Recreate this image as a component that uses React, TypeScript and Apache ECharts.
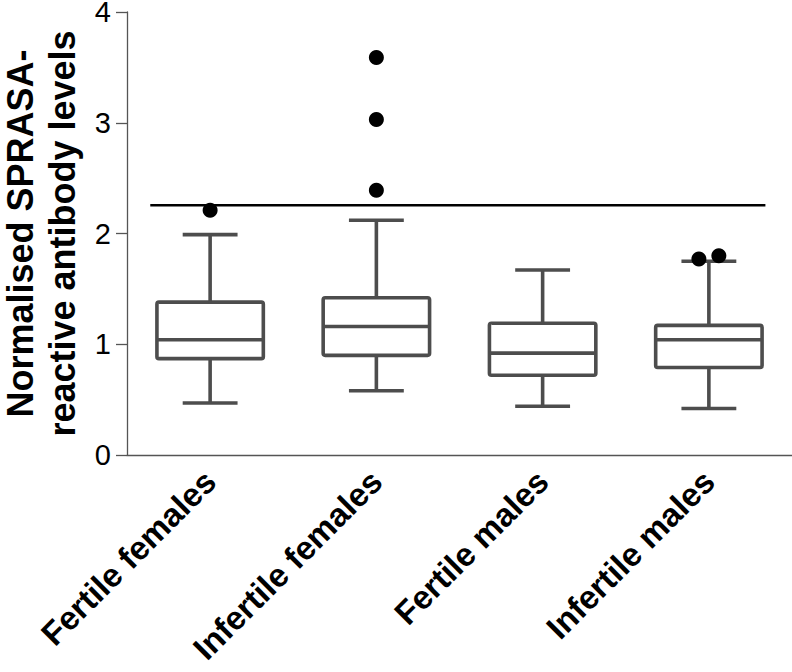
import React, { useEffect, useRef } from "react";
import * as echarts from "echarts";

const categories = ["Fertile females", "Infertile females", "Fertile males", "Infertile males"];
// [min, Q1, median, Q3, max]
const boxStats = [
  [0.47, 0.87, 1.04, 1.38, 1.99],
  [0.58, 0.9, 1.16, 1.42, 2.12],
  [0.44, 0.72, 0.92, 1.19, 1.67],
  [0.42, 0.79, 1.04, 1.17, 1.75],
];
// outliers: [x position (category index, with small jitter), value]
const outliers = [
  [0, 2.21],
  [1, 3.59],
  [1, 3.03],
  [1, 2.39],
  [2.94, 1.77],
  [3.06, 1.8],
];
const cutoffValue = 2.255;
const cutoffSpan = [-0.36, 3.34];
const yTicks = [0, 1, 2, 3, 4];

const FONT = "'Liberation Sans', Arial, Helvetica, sans-serif";
const BOX_COLOR = "#4d4d4d";

export default function App() {
  const ref = useRef<HTMLDivElement>(null);
  useEffect(() => {
    if (!ref.current) return;
    const chart = echarts.init(ref.current, undefined, { renderer: "svg" });
    const boxData = boxStats.map((s, i) => [i, ...s]);
    const option: any = {
      animation: false,
      backgroundColor: "#ffffff",
      grid: { left: 127, right: 0, top: 12, bottom: 217, containLabel: false, outerBoundsMode: "none" },
      xAxis: [
        {
          type: "category",
          data: categories,
          boundaryGap: true,
          axisLine: { onZero: false, lineStyle: { color: "#555", width: 1.3 } },
          axisTick: { alignWithLabel: true, length: 12, lineStyle: { color: "#555", width: 1.3 } },
          axisLabel: {
            interval: 0,
            rotate: 45,
            margin: 21,
            fontSize: 33,
            fontWeight: "bold",
            fontFamily: FONT,
            color: "#000",
          },
          splitLine: { show: false },
        },
        {
          type: "value",
          min: -0.5,
          max: 3.5,
          show: false,
        },
      ],
      yAxis: {
        type: "value",
        min: 0,
        max: 4,
        interval: 1,
        name: "Normalised SPRASA-\nreactive antibody levels",
        nameLocation: "middle",
        nameGap: 44,
        nameTextStyle: {
          fontSize: 36,
          fontWeight: "bold",
          fontFamily: FONT,
          color: "#000",
          lineHeight: 42,
        },
        axisLine: { show: true, onZero: false, lineStyle: { color: "#555", width: 1.3 } },
        axisTick: { show: true, length: 11, lineStyle: { color: "#555", width: 1.3 } },
        axisLabel: {
          margin: 16,
          fontSize: 29,
          lineHeight: 22,
          fontFamily: FONT,
          color: "#000",
          formatter: (v: number) => (yTicks.includes(v) ? String(v) : ""),
        },
        splitLine: { show: false },
      },
      series: [
        {
          type: "custom",
          xAxisIndex: 0,
          yAxisIndex: 0,
          encode: { x: 0, y: [1, 2, 3, 4, 5] },
          data: boxData,
          renderItem: (params: any, api: any) => {
            const idx = api.value(0);
            const band = api.size([1, 0])[0];
            const boxW = band * 0.64;
            const capW = band * 0.33;
            const pMin = api.coord([idx, api.value(1)]);
            const pQ1 = api.coord([idx, api.value(2)]);
            const pMed = api.coord([idx, api.value(3)]);
            const pQ3 = api.coord([idx, api.value(4)]);
            const pMax = api.coord([idx, api.value(5)]);
            const cx = pMed[0];
            const lineStyle = { stroke: BOX_COLOR, lineWidth: 3.6, fill: null, lineJoin: "round" };
            return {
              type: "group",
              children: [
                {
                  type: "rect",
                  shape: { x: cx - boxW / 2, y: pQ3[1], width: boxW, height: pQ1[1] - pQ3[1], r: 2 },
                  style: { ...lineStyle, fill: "none" },
                },
                { type: "line", shape: { x1: cx - boxW / 2, y1: pMed[1], x2: cx + boxW / 2, y2: pMed[1] }, style: lineStyle },
                { type: "line", shape: { x1: cx, y1: pQ3[1], x2: cx, y2: pMax[1] }, style: lineStyle },
                { type: "line", shape: { x1: cx, y1: pQ1[1], x2: cx, y2: pMin[1] }, style: lineStyle },
                { type: "line", shape: { x1: cx - capW / 2, y1: pMax[1], x2: cx + capW / 2, y2: pMax[1] }, style: lineStyle },
                { type: "line", shape: { x1: cx - capW / 2, y1: pMin[1], x2: cx + capW / 2, y2: pMin[1] }, style: lineStyle },
              ],
            };
          },
          z: 2,
        },
        {
          type: "line",
          xAxisIndex: 1,
          yAxisIndex: 0,
          data: cutoffSpan.map((x) => [x, cutoffValue]),
          showSymbol: false,
          symbol: "none",
          lineStyle: { color: "#000", width: 2.6 },
          z: 3,
        },
        {
          type: "scatter",
          xAxisIndex: 1,
          yAxisIndex: 0,
          data: outliers,
          symbol: "circle",
          symbolSize: 15,
          itemStyle: { color: "#000", opacity: 1 },
          z: 4,
        },
      ],
    };
    chart.setOption(option);
    return () => chart.dispose();
  }, []);
  return <div ref={ref} style={{ width: 792, height: 672, position: "absolute", left: 0, top: 0 }} />;
}
